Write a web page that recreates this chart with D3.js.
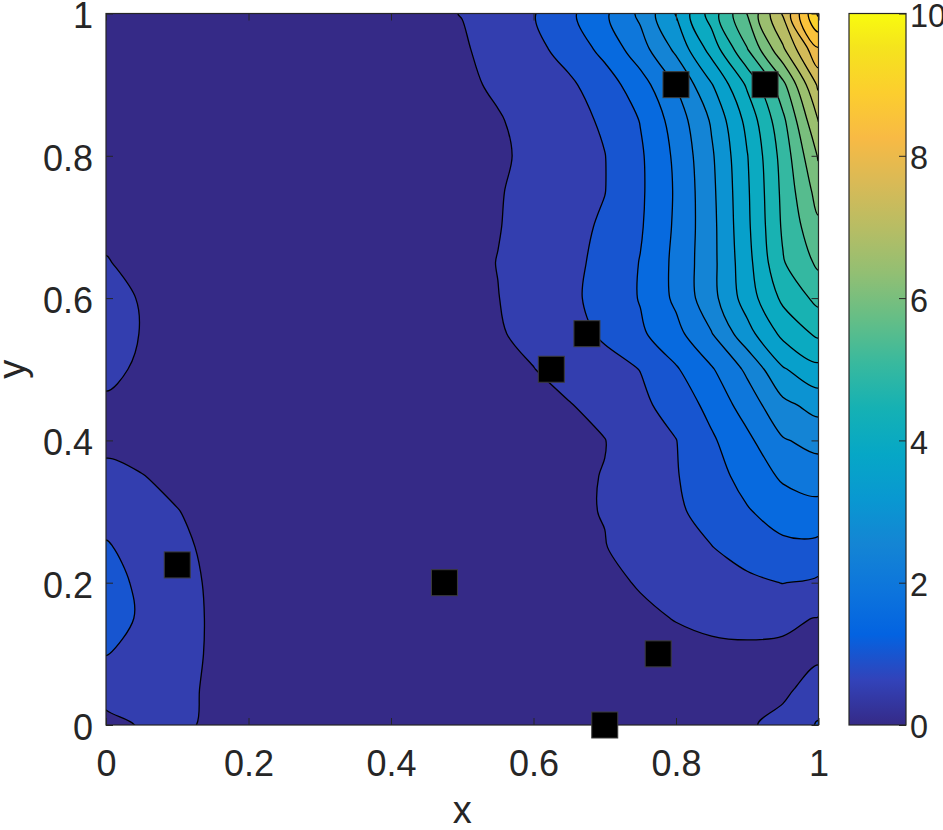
<!DOCTYPE html>
<html>
<head>
<meta charset="utf-8">
<script src="https://cdn.jsdelivr.net/npm/d3@7"></script>
<style>
body { margin: 0; background: #fff; }
</style>
</head>
<body>
<div id="chart"></div>
<script>

// sample grid (x across, y up) of the plotted surface
let grid_x = [0, 0.05, 0.1, 0.15, 0.2, 0.25, 0.3, 0.35, 0.4, 0.45, 0.5,
              0.55, 0.6, 0.65, 0.7, 0.75, 0.8, 0.85, 0.9, 0.95, 1];
let grid_y = [0, 0.05, 0.1, 0.15, 0.2, 0.25, 0.3, 0.35, 0.4, 0.45, 0.5,
              0.55, 0.6, 0.65, 0.7, 0.75, 0.8, 0.85, 0.9, 0.95, 1];

// one row per grid_y value, bottom row first
let z_rows = [
    [0.42,0.52,0.57,0.44,0.36,0.32,0.30,0.30,0.30,0.30,0.30,0.30,0.31,0.32,0.33,0.35,0.36,0.40,0.45,0.62,1.05],
    [0.61,0.62,0.60,0.44,0.36,0.32,0.30,0.30,0.30,0.30,0.30,0.31,0.32,0.33,0.35,0.37,0.38,0.38,0.40,0.42,0.68],
    [1.02,0.82,0.64,0.45,0.37,0.32,0.30,0.30,0.30,0.30,0.30,0.31,0.33,0.35,0.38,0.40,0.42,0.42,0.41,0.42,0.42],
    [1.25,0.93,0.66,0.45,0.37,0.32,0.30,0.30,0.30,0.30,0.30,0.33,0.36,0.40,0.42,0.45,0.51,0.58,0.64,0.58,0.48],
    [1.20,0.90,0.64,0.44,0.36,0.32,0.30,0.30,0.30,0.30,0.30,0.33,0.38,0.42,0.44,0.52,0.65,0.78,0.91,1.01,0.92],
    [1.05,0.80,0.58,0.42,0.35,0.31,0.30,0.30,0.30,0.30,0.30,0.34,0.40,0.45,0.49,0.62,0.80,0.99,1.19,1.39,1.36],
    [0.80,0.65,0.51,0.40,0.34,0.31,0.30,0.30,0.30,0.30,0.30,0.35,0.41,0.46,0.51,0.70,0.93,1.16,1.46,1.72,1.82],
    [0.55,0.51,0.42,0.36,0.32,0.30,0.30,0.30,0.30,0.30,0.30,0.34,0.40,0.45,0.51,0.75,0.97,1.30,1.68,2.08,2.24],
    [0.45,0.38,0.34,0.32,0.30,0.30,0.30,0.30,0.30,0.30,0.30,0.35,0.40,0.45,0.49,0.80,0.99,1.43,1.89,2.46,2.66],
    [0.45,0.38,0.34,0.32,0.30,0.30,0.30,0.30,0.30,0.31,0.33,0.38,0.43,0.48,0.65,0.90,1.19,1.66,2.23,2.88,3.18],
    [0.58,0.45,0.36,0.32,0.30,0.30,0.30,0.30,0.30,0.32,0.35,0.43,0.49,0.67,0.84,1.01,1.45,1.95,2.60,3.45,3.86],
    [0.62,0.49,0.38,0.33,0.30,0.30,0.30,0.30,0.31,0.33,0.38,0.46,0.62,0.83,1.07,1.42,1.85,2.48,3.32,4.13,4.60],
    [0.60,0.48,0.38,0.33,0.30,0.30,0.30,0.30,0.31,0.34,0.37,0.49,0.70,0.90,1.17,1.53,2.10,2.83,3.74,4.61,5.14],
    [0.52,0.40,0.36,0.32,0.30,0.30,0.30,0.30,0.31,0.33,0.36,0.51,0.69,0.88,1.13,1.52,2.12,2.85,3.83,4.96,5.60],
    [0.42,0.37,0.34,0.32,0.30,0.30,0.30,0.30,0.31,0.33,0.35,0.48,0.67,0.85,1.07,1.45,2.08,2.85,3.90,5.07,5.90],
    [0.36,0.34,0.32,0.31,0.30,0.30,0.30,0.30,0.31,0.33,0.35,0.47,0.63,0.81,0.99,1.42,2.06,2.88,3.93,5.12,6.21],
    [0.33,0.32,0.31,0.30,0.30,0.30,0.30,0.30,0.31,0.33,0.35,0.44,0.59,0.79,0.99,1.43,2.10,2.93,3.98,5.19,6.55],
    [0.32,0.31,0.30,0.30,0.30,0.30,0.30,0.30,0.32,0.34,0.38,0.47,0.63,0.83,1.07,1.52,2.22,3.06,4.15,5.38,7.02],
    [0.31,0.30,0.30,0.30,0.30,0.30,0.30,0.31,0.34,0.38,0.42,0.56,0.74,0.92,1.26,1.79,2.52,3.47,4.58,5.86,7.60],
    [0.30,0.30,0.30,0.30,0.30,0.30,0.30,0.31,0.35,0.40,0.45,0.66,0.87,1.18,1.65,2.29,3.11,4.20,5.48,6.92,8.45],
    [0.30,0.30,0.30,0.30,0.30,0.30,0.30,0.32,0.36,0.43,0.51,0.73,0.97,1.39,1.91,2.61,3.53,4.73,6.02,7.55,9.60]
];

let levels = [0, 0.5, 1, 1.5, 2, 2.5, 3, 3.5, 4, 4.5, 5, 5.5, 6, 6.5, 7, 7.5, 8, 8.5, 9, 9.5];

// sample locations (black squares)
let pt_x = [0.1, 0.475, 0.625, 0.675, 0.8, 0.925, 0.775, 0.7];
let pt_y = [0.225, 0.2, 0.5, 0.55, 0.9, 0.9, 0.1, 0];

let axis_ticks = [0, 0.2, 0.4, 0.6, 0.8, 1];
let axis_tick_labels = ["0", "0.2", "0.4", "0.6", "0.8", "1"];
let cbar_ticks = [0, 2, 4, 6, 8, 10];

// parula colormap, every 4th of the 64 entries
let parula_idx = [0, 4, 8, 12, 16, 20, 24, 28, 32, 36, 40, 44, 48, 52, 56, 60, 63];
let parula_hex = ["#352a87", "#3243ba", "#0363e1", "#0d75dc", "#1485d4", "#0998d1",
                  "#06a7c6", "#15b1b4", "#38b99e", "#65be86", "#92bf73", "#b7bd64",
                  "#d9ba56", "#f8ba44", "#fcce2e", "#f5e41d", "#f9fb0e"];

let c_min = 0, c_max = 10;

let plot_left = 106, plot_right = 818.5, plot_top = 13.5, plot_bottom = 725;
let cbar_left = 849, cbar_right = 906;
let font_size = 36;
let axis_color = "#262626";

let svg = d3.select("#chart")
            .append("svg")
            .attr("width", 943)
            .attr("height", 830)
            .style("font-family", "'Liberation Sans', Arial, Helvetica, sans-serif");

let xScale = d3.scaleLinear().domain([0, 1]).range([plot_left, plot_right]);
let yScale = d3.scaleLinear().domain([0, 1]).range([plot_bottom, plot_top]);

let parula = d3.scaleLinear()
               .domain(parula_idx.map(i => c_min + (c_max - c_min) * i / 63))
               .range(parula_hex)
               .interpolate(d3.interpolateRgb)
               .clamp(true);

// contour bands
let nx = grid_x.length, ny = grid_y.length;
let values = [];
for (let j = 0; j < ny; j++) {
    for (let i = 0; i < nx; i++) {
        values.push(z_rows[j][i]);
    }
}

let contours = d3.contours()
                 .size([nx, ny])
                 .smooth(true)
                 .thresholds(levels)(values);

let dx = grid_x[1] - grid_x[0];
let dy = grid_y[1] - grid_y[0];

// grid coords -> pixels, drawn as rounded closed curves
let ring_line = d3.line().curve(d3.curveCatmullRomClosed.alpha(0.5));

function band_path(c) {
    return c.coordinates.map(function(poly) {
        return poly.map(function(ring) {
            let pts = ring.slice(0, -1).map(p => [
                xScale(grid_x[0] + (p[0] - 0.5) * dx),
                yScale(grid_y[0] + (p[1] - 0.5) * dy)
            ]);
            return ring_line(pts);
        }).join("");
    }).join("");
}

let defs = svg.append("defs");
defs.append("clipPath")
    .attr("id", "plot_clip")
    .append("rect")
    .attr("x", plot_left)
    .attr("y", plot_top)
    .attr("width", plot_right - plot_left)
    .attr("height", plot_bottom - plot_top);

svg.append("g")
    .attr("clip-path", "url(#plot_clip)")
    .selectAll(".band")
    .data(contours)
    .enter()
    .append("path")
    .attr("class", "band")
    .attr("d", band_path)
    .attr("fill-rule", "evenodd")
    .attr("fill", d => parula(d.value))
    .attr("stroke", d => d.value > levels[0] ? "#000" : "none")
    .attr("stroke-width", 1.3)
    .attr("stroke-linejoin", "round");

// axes box with inward ticks
let tick_len = 7;

function style_axis(g) {
    g.select(".domain").remove();
    g.attr("font-size", font_size)
     .attr("font-family", null)
     .style("color", axis_color);
    g.selectAll(".tick line").attr("stroke-width", 1);
}

svg.append("g")
    .attr("transform", "translate(0," + plot_bottom + ")")
    .call(d3.axisBottom(xScale).tickValues(axis_ticks).tickSize(-tick_len).tickPadding(25)
            .tickFormat((d, i) => axis_tick_labels[i]))
    .call(style_axis);

svg.append("g")
    .attr("transform", "translate(0," + plot_top + ")")
    .call(d3.axisTop(xScale).tickValues(axis_ticks).tickSize(-tick_len).tickFormat(""))
    .call(style_axis);

svg.append("g")
    .attr("transform", "translate(" + plot_left + ",0)")
    .call(d3.axisLeft(yScale).tickValues(axis_ticks).tickSize(-tick_len).tickPadding(13)
            .tickFormat((d, i) => axis_tick_labels[i]))
    .call(style_axis)
    .call(g => g.selectAll("text").attr("dy", "0.4em"));

svg.append("g")
    .attr("transform", "translate(" + plot_right + ",0)")
    .call(d3.axisRight(yScale).tickValues(axis_ticks).tickSize(-tick_len).tickFormat(""))
    .call(style_axis);

svg.append("rect")
    .attr("x", plot_left)
    .attr("y", plot_top)
    .attr("width", plot_right - plot_left)
    .attr("height", plot_bottom - plot_top)
    .attr("fill", "none")
    .attr("stroke", axis_color)
    .attr("stroke-width", 1.2);

// data points
let marker = 26;
svg.selectAll(".pt")
    .data(d3.range(pt_x.length))
    .enter()
    .append("rect")
    .attr("class", "pt")
    .attr("x", i => xScale(pt_x[i]) - marker / 2)
    .attr("y", i => yScale(pt_y[i]) - marker / 2)
    .attr("width", marker)
    .attr("height", marker)
    .attr("fill", "#000")
    .attr("stroke", "#3c3c3c")
    .attr("stroke-width", 1);

// axis labels
svg.append("text")
    .attr("x", (plot_left + plot_right) / 2)
    .attr("y", 823)
    .attr("text-anchor", "middle")
    .attr("font-size", 38)
    .attr("fill", axis_color)
    .text("x");

svg.append("text")
    .attr("transform", "translate(25," + ((plot_top + plot_bottom) / 2) + ") rotate(-90)")
    .attr("text-anchor", "middle")
    .attr("font-size", 38)
    .attr("fill", axis_color)
    .text("y");

// colorbar
let cScale = d3.scaleLinear().domain([c_min, c_max]).range([plot_bottom, plot_top]);

let grad = defs.append("linearGradient")
               .attr("id", "cbar_grad")
               .attr("x1", 0).attr("y1", 1)
               .attr("x2", 0).attr("y2", 0);
grad.selectAll("stop")
    .data(parula_idx)
    .enter()
    .append("stop")
    .attr("offset", d => d / 63)
    .attr("stop-color", (d, i) => parula_hex[i]);

svg.append("rect")
    .attr("x", cbar_left)
    .attr("y", plot_top)
    .attr("width", cbar_right - cbar_left)
    .attr("height", plot_bottom - plot_top)
    .attr("fill", "url(#cbar_grad)")
    .attr("stroke", axis_color)
    .attr("stroke-width", 1.2);

svg.append("g")
    .attr("transform", "translate(" + cbar_right + ",0)")
    .call(d3.axisRight(cScale).tickValues(cbar_ticks).tickSize(-tick_len).tickPadding(4)
            .tickFormat(d3.format("d")))
    .call(style_axis)
    .call(g => g.attr("font-size", 32.4).selectAll("text").attr("dy", "0.4em"));

</script>
</body>
</html>
